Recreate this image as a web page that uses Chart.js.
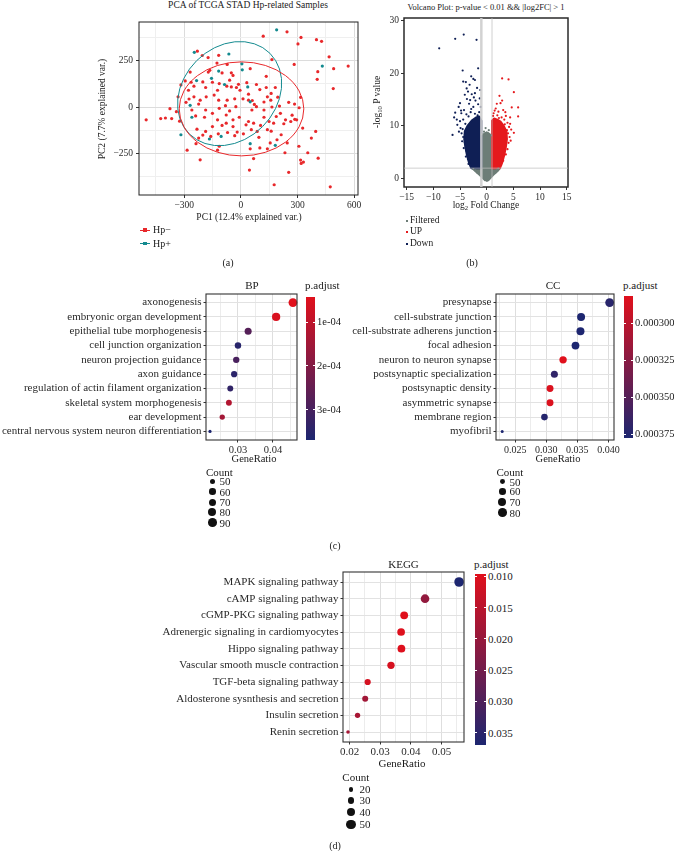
<!DOCTYPE html>
<html>
<head>
<meta charset="utf-8">
<script src="https://cdn.jsdelivr.net/npm/chart.js@4.4.0/dist/chart.umd.min.js"></script>
<style>
  html, body { margin: 0; padding: 0; background: #fff; }
  #page { position: relative; width: 674px; height: 851px; overflow: hidden;
          font-family: 'Liberation Serif', 'DejaVu Serif', serif; color: #1a1a1a; }
  .t { position: absolute; white-space: nowrap; line-height: 1; }
  .t sub { font-size: 70%; vertical-align: -0.3em; line-height: 0; }
  canvas { position: absolute; }
</style>
</head>
<body>
<div id="page"></div>
<script>
/* ---- (a) PCA: [PC1, PC2] ---- */
const hpNeg = [
  [244,404],[118,381],[318,374],[400,362],[427,353],[302,339],[467,270],[164,255],[282,229],[491,206],
  [407,190],[404,149],[489,99],[568,220],[-231,300],[-205,277],[-174,266],[-118,278],[-165,197],[-100,183],
  [-51,184],[49,206],[-73,229],[-127,236],[-42,170],[-295,140],[-264,133],[-318,119],[-249,112],[-202,135],
  [-187,105],[-151,133],[-115,126],[-75,112],[-51,108],[-24,105],[-13,122],[31,131],[82,121],[100,94],
  [134,105],[134,165],[182,105],[160,73],[195,53],[158,37],[122,27],[60,35],[71,14],[40,37],
  [11,44],[-33,44],[-73,37],[-118,37],[-142,64],[-184,55],[-216,37],[-249,55],[-275,43],[-291,25],
  [-333,55],[-376,-9],[-400,-59],[-425,-62],[-367,-62],[-502,-69],[-325,-76],[-260,-16],[-224,16],[-187,-16],
  [-115,-7],[-82,7],[-60,-21],[-27,2],[58,-16],[82,2],[122,-16],[164,0],[204,5],[209,-34],
  [187,-51],[236,-69],[227,-90],[285,-66],[271,-44],[316,52],[284,16],[308,-4],[-240,-48],[-193,-55],
  [-151,-34],[-124,-69],[-100,-99],[-78,-87],[-42,-69],[-9,-55],[27,-96],[40,-78],[67,-87],[122,-55],
  [149,-78],[173,-87],[140,-122],[104,-99],[160,-130],[95,-163],[55,-122],[13,-144],[-20,-135],[-33,-154],
  [-71,-137],[-120,-144],[-151,-105],[-187,-131],[-233,-119],[-202,-151],[-224,-167],[-238,-197],[-160,-158],[-115,-211],
  [-124,-232],[-285,-232],[-216,-284],[49,-225],[100,-220],[140,-225],[67,-277],[155,-193],[45,-339],[176,-418],
  [253,-351],[233,-246],[307,-211],[316,-285],[331,-296],[354,-246],[409,-275],[373,-167],[396,-131],[327,-113],
  [295,-69],[473,-429],[245,-193],[191,-176],[-342,-25],[-42,-105],[-78,-43],[-124,90],[-60,144],[-5,90],
  [40,69],[140,55],[253,25],[264,-78],[86,-131],[213,-149],[-278,90],[-173,188],[-269,188],[319,-303]
];
const hpPos = [
  [189,415],[-247,294],[-64,285],[5,232],[7,200],[-118,193],[-156,154],[-235,142],[-87,121],[36,108],
  [49,28],[-269,9],[-260,-55],[-318,-149],[-167,-172],[-105,-158],[49,-197],[182,-206],[431,220]
];
// stat_ellipse outlines: centre, semi-axes (PC1 units), tilt in degrees
const ellipseHpPos = { cx: -60, cy: 72, a: 302, b: 247, angle: 45 };
const ellipseHpNeg = { cx: 3, cy: -10, a: 330, b: 249, angle: 0 };

/* ---- (b) volcano: [log2FC, -log10 p] ---- */
const fcCut = 1;
const pCut = 2;
const downPoints = [
  [-8.9,24.7],[-5.9,26.5],[-4.3,27.3],[-1.9,26.3],[-4.5,20.5],[-1.6,20.9],[-4.4,18.4],[-3.9,18.3],[-2.5,18.9],[-2.2,18.7],
  [-3.75,17.1],[-3.5,16.5],[-4.1,15.9],[-2.8,16.0],[-2.2,16.2],[-5,14.3],[-5.25,13.6],[-5.9,12.5],[-6.1,11.6],[-6.4,8.3],
  [-4.75,12.4],[-4.25,13],[-3.1,14.9],[-2.5,13.6],[-5.5,10.2],[-4.7,8.6],[-3.3,14.2],[-2.9,13.2],[-3.8,12.2],[-4.4,11.2],
  [-5.0,10.9],[-4.9,9.6],[-5.2,8.9],[-4.6,7.1],[-4.3,5.8],[-3.9,4.2],[-3.4,2.8],[-1.6,14.1],[-2.1,14.8],[-1.3,15.2],
  [-1.8,17.2],[-3.2,17.8],[-2.9,19.4],[-1.4,12.6],[-3.4,11.8],[-4.0,10.4],[-4.8,12.9],[-5.6,11.2],[-3.7,15.1],[-2.4,15.4],
  [-1.2,16.8],[-3.0,12.6],[-4.5,9.4],[-4.4,7.9],[-4.1,6.9],[-3.8,5.3],[-3.5,3.7],[-2.2,12.3],[-1.7,12.0],[-1.1,13.6]
];
const upPoints = [
  [2.9,19.0],[4.1,18.8],[5.1,16.4],[2.4,15.7],[2.6,14.3],[5.9,13.5],[4.7,13.5],[5.9,11.8],[4.4,11.6],[3.6,11.9],
  [3.1,13.0],[5.1,8.7],[2.2,12.7],[1.7,13.3],[1.3,12.4],[2.0,12.0],[2.8,11.6],[3.3,11.2],[3.9,10.6],[4.2,9.8],
  [4.0,8.6],[4.3,7.9],[4.1,6.8],[3.9,5.6],[3.6,4.6],[3.1,3.4],[2.7,2.6],[4.6,9.3],[3.5,12.6],[2.9,14.8],
  [1.9,14.2],[4.4,10.4],[1.5,12.9],[3.4,10.3],[4.5,7.2],[3.8,9.2],[1.2,11.9],[2.3,11.5]
];
const filteredPoints = [
  [-0.5,8.9],[0.4,9.2],[-0.2,9.6],[0.8,8.2],[-0.9,8.4],[1.9,1.7],[-2.5,1.8],[-1.8,1.2],[1.6,1.1],[0.05,-0.4],
  [0.3,8.6],[-0.4,8.2],[2.2,1.9],[-2.1,1.6]
];
// outlines of the solid, overplotted parts of each group
const filteredCloud = [[-0.3,-0.3],[0.3,-0.3],[1.2,0.7],[2,1.4],[2.5,2],[1,2],[1,7.5],[0.6,8.4],[0,8.8],[-0.6,8.4],
  [-1,7.5],[-1,2],[-2.7,2],[-2.1,1.4],[-1.3,0.7]];
const downCloud = [[-1,2],[-2.9,2],[-3.3,3],[-3.7,4.5],[-4.0,6],[-4.2,7.5],[-4.1,9],[-3.6,10],[-2.8,11],[-2,11.6],
  [-1.4,11.8],[-1,11]];
const upCloud = [[1,2],[2.5,2],[2.9,3],[3.3,4.5],[3.6,6],[3.8,7.5],[3.7,9],[3.2,10],[2.6,10.8],[2,11.2],[1.4,11.4],[1,11]];

/* ---- (c) GO BP ---- */
const bpTerms = ['axonogenesis', 'embryonic organ development', 'epithelial tube morphogenesis', 'cell junction organization',
  'neuron projection guidance', 'axon guidance', 'regulation of actin filament organization', 'skeletal system morphogenesis',
  'ear development', 'central nervous system neuron differentiation'];
const bpRatio = [0.0457, 0.0409, 0.0329, 0.0300, 0.0295, 0.0289, 0.0278, 0.0274, 0.0255, 0.0220];
const bpCount = [91, 82, 66, 60, 59, 58, 55, 55, 51, 44];
const bpPadj = [0.43e-4, 0.55e-4, 2.75e-4, 3.5e-4, 2.95e-4, 3.45e-4, 3.35e-4, 1.2e-4, 1.45e-4, 3.69e-4];
const bpCountBreaks = [50, 60, 70, 80, 90];
const bpPadjBreaks = [1e-4, 2e-4, 3e-4];
const bpPadjLabels = ['1e-04', '2e-04', '3e-04'];

/* ---- (c) GO CC ---- */
const ccTerms = ['presynapse', 'cell-substrate junction', 'cell-substrate adherens junction', 'focal adhesion',
  'neuron to neuron synapse', 'postsynaptic specialization', 'postsynaptic density', 'asymmetric synapse',
  'membrane region', 'myofibril'];
const ccRatio = [0.0402, 0.0356, 0.0355, 0.0347, 0.0327, 0.0313, 0.0306, 0.0306, 0.0297, 0.0229];
const ccCount = [81, 72, 72, 70, 66, 63, 62, 62, 60, 46];
const ccPadj = [0.000372, 0.0003775, 0.0003775, 0.0003775, 0.0002816, 0.000368, 0.000284, 0.000284, 0.000374, 0.0003775];
const ccCountBreaks = [50, 60, 70, 80];
const ccPadjBreaks = [0.0003, 0.000325, 0.00035, 0.000375];
const ccPadjLabels = ['0.000300', '0.000325', '0.000350', '0.000375'];

/* ---- (d) KEGG ---- */
const keggTerms = ['MAPK signaling pathway', 'cAMP signaling pathway', 'cGMP-PKG signaling pathway',
  'Adrenergic signaling in cardiomyocytes', 'Hippo signaling pathway', 'Vascular smooth muscle contraction',
  'TGF-beta signaling pathway', 'Aldosterone sysnthesis and secretion', 'Insulin secretion', 'Renin secretion'];
const keggRatio = [0.0557, 0.0446, 0.0378, 0.0368, 0.0369, 0.0335, 0.0259, 0.0251, 0.0226, 0.0195];
const keggCount = [55, 44, 37, 36, 36, 33, 26, 25, 22, 19];
const keggPadj = [0.0370, 0.0205, 0.0096, 0.0099, 0.0099, 0.0110, 0.0112, 0.0185, 0.0175, 0.0178];
const keggCountBreaks = [20, 30, 40, 50];
const keggPadjBreaks = [0.010, 0.015, 0.020, 0.025, 0.030, 0.035];
const keggPadjLabels = ['0.010', '0.015', '0.020', '0.025', '0.030', '0.035'];

/* ---- helpers ---- */
const SERIF = "'Liberation Serif', 'DejaVu Serif', serif";
Chart.defaults.font.family = SERIF;
Chart.defaults.color = '#333';

const page = document.getElementById('page');
const LOW = [224, 16, 28], HIGH = [29, 38, 112];

function grad(t) {
  t = Math.max(0, Math.min(1, t));
  const c = LOW.map((v, i) => Math.round(v + (HIGH[i] - v) * t));
  return `rgb(${c[0]},${c[1]},${c[2]})`;
}

function onStep(v, step) {
  return Math.abs(v / step - Math.round(v / step)) < 1e-6;
}

function minus(v) {
  return (v < 0 ? '\u2212' : '') + Math.abs(v);
}

function text(x, y, html, o = {}) {
  const d = document.createElement('div');
  d.className = 't';
  d.innerHTML = html;
  d.style.left = x + 'px';
  d.style.top = y + 'px';
  d.style.fontSize = (o.size || 10) + 'px';
  const tx = o.align === 'l' ? '0' : o.align === 'r' ? '-100%' : '-50%';
  d.style.transform = `translate(${tx},-50%)` + (o.rot ? ` rotate(${o.rot}deg)` : '');
  if (o.color) d.style.color = o.color;
  page.appendChild(d);
  return d;
}

function box(l, t, w, h, css) {
  const d = document.createElement('div');
  d.style.cssText = `position:absolute;left:${l}px;top:${t}px;width:${w}px;height:${h}px;${css}`;
  page.appendChild(d);
  return d;
}

function linAxis(min, max, step, major, fmt, o) {
  return {
    type: 'linear', min, max, reverse: !!o.reverse,
    afterBuildTicks: s => { s.ticks = s.ticks.filter(t => onStep(t.value, step)); },
    ticks: {
      stepSize: step, includeBounds: false, autoSkip: false, maxRotation: 0, padding: o.pad, color: '#2a2a2a',
      font: { size: o.fs, family: SERIF },
      callback: v => onStep(v, major) ? fmt(v) : ''
    },
    grid: {
      drawOnChartArea: o.grid !== false, tickLength: o.tl, lineWidth: 1,
      color: c => (c.tick && onStep(c.tick.value, major)) ? o.major : o.minor,
      tickColor: c => (c.tick && onStep(c.tick.value, major)) ? '#333' : 'rgba(0,0,0,0)'
    },
    border: { display: false }
  };
}

// panel border drawn over the data, like ggplot's panel.border
Chart.register({
  id: 'frame',
  defaults: { color: '#333', width: 1 },
  afterDatasetsDraw(chart, args, opts) {
    const a = chart.chartArea, ctx = chart.ctx;
    ctx.save();
    ctx.strokeStyle = opts.color;
    ctx.lineWidth = opts.width;
    ctx.strokeRect(a.left, a.top, a.right - a.left, a.bottom - a.top);
    ctx.restore();
  }
});

// mount a canvas so that the chart area lands exactly on area
function panel(area, m, config) {
  const c = document.createElement('canvas');
  const w = area.r - area.l + m.l + m.r, h = area.b - area.t + m.t + m.b;
  c.width = w; c.height = h;
  c.style.left = (area.l - m.l) + 'px';
  c.style.top = (area.t - m.t) + 'px';
  c.style.width = w + 'px';
  c.style.height = h + 'px';
  page.appendChild(c);
  const fit = (size, prop) => s => {
    s[prop] = size;
    s.paddingLeft = s.paddingRight = s.paddingTop = s.paddingBottom = 0;
  };
  const opts = config.options;
  opts.responsive = false;
  opts.animation = false;
  opts.devicePixelRatio = 1;
  opts.layout = { padding: { top: m.t, right: m.r, left: 0, bottom: 0 } };
  opts.plugins = Object.assign({ legend: { display: false }, tooltip: { enabled: false } }, opts.plugins || {});
  opts.scales.x.afterFit = fit(m.b, 'height');
  opts.scales.y.afterFit = fit(m.l, 'width');
  return new Chart(c, config);
}

/* ---- (a) PCA ---- */
const RED_PT = '#e8282b', TEAL = '#138a8f';
const pairs = arr => arr.map(([x, y]) => ({ x, y }));

panel({ l: 139, t: 22, r: 358, b: 195 }, { l: 34, t: 4, r: 12, b: 18 }, {
  type: 'scatter',
  data: {
    datasets: [
      { data: pairs(hpPos), pointBackgroundColor: TEAL, pointRadius: 1.6, pointBorderWidth: 0 },
      { data: pairs(hpNeg), pointBackgroundColor: RED_PT, pointRadius: 1.6, pointBorderWidth: 0 }
    ]
  },
  options: {
    scales: {
      x: linAxis(-540, 620, 150, 300, minus, { pad: 2, tl: 3, fs: 9.5, major: '#dcdcdc', minor: '#efefef' }),
      y: linAxis(-473, 457, 125, 250, minus, { pad: 3, tl: 3, fs: 9.5, major: '#dcdcdc', minor: '#efefef' })
    },
    plugins: { frame: { color: '#222', width: 1 } }
  },
  plugins: [{
    id: 'ellipses',
    afterDatasetsDraw(chart) {
      const { ctx, scales: { x, y } } = chart;
      [[ellipseHpPos, TEAL], [ellipseHpNeg, RED_PT]].forEach(([e, col]) => {
        const cx = x.getPixelForValue(e.cx), cy = y.getPixelForValue(e.cy);
        const a = Math.abs(x.getPixelForValue(e.cx + e.a) - cx);
        const b = Math.abs(x.getPixelForValue(e.cx + e.b) - cx);
        ctx.save();
        ctx.beginPath();
        ctx.ellipse(cx, cy, a, b, -e.angle * Math.PI / 180, 0, 2 * Math.PI);
        ctx.strokeStyle = col;
        ctx.lineWidth = 1;
        ctx.stroke();
        ctx.restore();
      });
    }
  }]
});

text(248, 6, 'PCA of TCGA STAD Hp-related Samples', { size: 9.5 });
text(249, 217.5, 'PC1 (12.4% explained var.)', { size: 9.5 });
text(103, 109, 'PC2 (7.7% explained var.)', { size: 9.5, rot: -90 });
[['Hp\u2212', RED_PT, 230], ['Hp+', TEAL, 243.5]].forEach(([lab, col, y]) => {
  box(140, y - 0.5, 10, 1, `background:${col}`);
  box(143.3, y - 1.7, 3.4, 3.4, `background:${col}`);
  text(153, y, lab, { size: 10, align: 'l' });
});
text(228, 263, '(a)', { size: 10 });

/* ---- (b) volcano ---- */
const NAVY_PT = '#0f1f55', UP_PT = '#e5191d', GRAY_PT = '#6d7d77';

panel({ l: 404, t: 18, r: 568, b: 187 }, { l: 26, t: 6, r: 8, b: 18 }, {
  type: 'scatter',
  data: {
    datasets: [
      { data: pairs(downPoints), pointBackgroundColor: NAVY_PT, pointRadius: 1.1, pointBorderWidth: 0 },
      { data: pairs(upPoints), pointBackgroundColor: UP_PT, pointRadius: 1.1, pointBorderWidth: 0 },
      { data: pairs(filteredPoints), pointBackgroundColor: GRAY_PT, pointRadius: 1.1, pointBorderWidth: 0 }
    ]
  },
  options: {
    scales: {
      x: linAxis(-15.5, 15.25, 5, 5, minus, { pad: 2, tl: 3, fs: 9.5, grid: false }),
      y: linAxis(-1.57, 30.44, 10, 10, minus, { pad: 2, tl: 3, fs: 9.5, grid: false })
    },
    plugins: { frame: { color: '#2a2a2a', width: 1.5 } }
  },
  plugins: [{
    id: 'clouds',
    beforeDatasetsDraw(chart) {
      const { ctx, scales: { x, y } } = chart;
      [[filteredCloud, GRAY_PT], [downCloud, NAVY_PT], [upCloud, UP_PT]].forEach(([poly, col]) => {
        ctx.save();
        ctx.beginPath();
        poly.forEach(([px, py], i) => {
          const X = x.getPixelForValue(px), Y = y.getPixelForValue(py);
          if (i) ctx.lineTo(X, Y); else ctx.moveTo(X, Y);
        });
        ctx.closePath();
        ctx.fillStyle = col;
        ctx.fill();
        ctx.strokeStyle = col;
        ctx.lineWidth = 2;
        ctx.lineJoin = 'round';
        ctx.stroke();
        ctx.restore();
      });
    },
    afterDatasetsDraw(chart) {
      const { ctx, chartArea: a, scales: { x, y } } = chart;
      ctx.save();
      ctx.strokeStyle = 'rgba(205,205,205,0.9)';
      ctx.lineWidth = 2.5;
      ctx.beginPath();
      ctx.moveTo(x.getPixelForValue(-fcCut), a.top);
      ctx.lineTo(x.getPixelForValue(-fcCut), a.bottom);
      ctx.stroke();
      ctx.strokeStyle = 'rgba(190,190,190,0.9)';
      ctx.lineWidth = 0.8;
      ctx.beginPath();
      ctx.moveTo(x.getPixelForValue(fcCut), a.top);
      ctx.lineTo(x.getPixelForValue(fcCut), a.bottom);
      ctx.moveTo(a.left, y.getPixelForValue(pCut));
      ctx.lineTo(a.right, y.getPixelForValue(pCut));
      ctx.stroke();
      ctx.restore();
    }
  }]
});

text(486, 7, 'Volcano Plot: p-value &lt; 0.01 &amp;&amp; |log2FC| &gt; 1', { size: 8.5 });
text(486, 205.5, 'log<sub>2</sub> Fold Change', { size: 9.5 });
text(378, 102, '-log<sub>10</sub> P value', { size: 9.5, rot: -90 });
[['Filtered', GRAY_PT, 221], ['UP', UP_PT, 232.3], ['Down', NAVY_PT, 243.7]].forEach(([lab, col, y]) => {
  box(405.7, y - 1, 2, 2, `background:${col}`);
  text(410, y, lab, { size: 9.5, align: 'l' });
});
text(472, 262.5, '(b)', { size: 10 });

/* ---- dot plots ---- */
function dotPlot(area, m, terms, ratio, count, padj, xr, step, major, dec, rr, fs, xfs) {
  const pmin = Math.min(...padj), pmax = Math.max(...padj);
  const cmin = Math.min(...count), cmax = Math.max(...count);
  const rad = c => rr[0] + (rr[1] - rr[0]) * Math.sqrt(Math.max(0, c - cmin) / (cmax - cmin));
  panel(area, m, {
    type: 'scatter',
    data: {
      datasets: [{
        data: ratio.map((r, i) => ({ x: r, y: i })),
        pointRadius: count.map(rad),
        pointBackgroundColor: padj.map(p => grad((p - pmin) / (pmax - pmin))),
        pointBorderWidth: 0,
        clip: false
      }]
    },
    options: {
      scales: {
        x: linAxis(xr[0], xr[1], step, major, v => v.toFixed(dec),
          { pad: 1.5, tl: 2.5, fs: xfs, major: '#dedede', minor: '#ececec' }),
        y: linAxis(-0.6, 9.6, 1, 1, v => terms[Math.round(v)],
          { reverse: true, pad: 2, tl: 2.5, fs: fs, major: '#e2e2e2', minor: '#e2e2e2' })
      },
      plugins: { frame: { color: '#333', width: 1.1 } }
    }
  });
  return { rad, pmin, pmax };
}

function colorbar(b, pmin, pmax, breaks, labels, lx, fs) {
  box(b.l, b.t, b.r - b.l, b.b - b.t, `background:linear-gradient(to bottom, ${grad(0)}, ${grad(1)})`);
  const w = b.r - b.l;
  breaks.forEach((v, i) => {
    const y = b.t + (v - pmin) / (pmax - pmin) * (b.b - b.t);
    box(b.l, y - 0.5, w * 0.2, 1, 'background:#fff');
    box(b.r - w * 0.2, y - 0.5, w * 0.2, 1, 'background:#fff');
    text(lx, y, labels[i], { size: fs, align: 'l' });
  });
}

function countLegend(tx, ty, dx, ys, lx, breaks, rad, fs) {
  text(tx, ty, 'Count', { size: fs, align: 'l' });
  breaks.forEach((c, i) => {
    const r = rad(c);
    box(dx - r, ys[i] - r, 2 * r, 2 * r, 'background:#111;border-radius:50%');
    text(lx, ys[i], String(c), { size: fs, align: 'l' });
  });
}

// BP
const bp = dotPlot({ l: 206, t: 294, r: 297, b: 440 }, { l: 206, t: 6, r: 6, b: 16 },
  bpTerms, bpRatio, bpCount, bpPadj, [0.02086, 0.04686], 0.005, 0.01, 2, [1.6, 4.4], 11, 10.5);
text(252, 285, 'BP', { size: 11 });
text(254, 459, 'GeneRatio', { size: 10.5 });
text(305, 285, 'p.adjust', { size: 11, align: 'l' });
colorbar({ l: 306, t: 297, r: 315, b: 440 }, bp.pmin, bp.pmax, bpPadjBreaks, bpPadjLabels, 317, 10.5);
countLegend(206, 472.3, 212.3, [481.3, 491.7, 502.3, 512.3, 522.7], 219.5, bpCountBreaks, bp.rad, 11);

// CC
const cc = dotPlot({ l: 496, t: 294, r: 614, b: 440 }, { l: 150, t: 6, r: 6, b: 16 },
  ccTerms, ccRatio, ccCount, ccPadj, [0.0219, 0.0409], 0.0025, 0.005, 3, [1.5, 4.4], 11, 10);
text(553, 285, 'CC', { size: 11 });
text(558, 459, 'GeneRatio', { size: 10.5 });
text(623, 285, 'p.adjust', { size: 11, align: 'l' });
colorbar({ l: 624, t: 296, r: 633, b: 438 }, cc.pmin, cc.pmax, ccPadjBreaks, ccPadjLabels, 635, 10.5);
countLegend(496.5, 472.3, 502.3, [481.7, 491.3, 501.7, 512.7], 509.5, ccCountBreaks, cc.rad, 11);

text(335, 546, '(c)', { size: 10 });

// KEGG
const kg = dotPlot({ l: 343, t: 572, r: 464, b: 742 }, { l: 185, t: 6, r: 6, b: 17 },
  keggTerms, keggRatio, keggCount, keggPadj, [0.01786, 0.0573], 0.005, 0.01, 2, [1.8, 4.8], 11, 11);
text(403.5, 564.3, 'KEGG', { size: 11 });
text(402, 762.7, 'GeneRatio', { size: 11 });
text(474, 564.3, 'p.adjust', { size: 11, align: 'l' });
colorbar({ l: 475, t: 574, r: 486, b: 745 }, kg.pmin, kg.pmax, keggPadjBreaks, keggPadjLabels, 488, 11);
countLegend(342.3, 776.7, 351, [789.3, 800.3, 811.7, 824.3], 359.5, keggCountBreaks, kg.rad, 11);

text(335, 846, '(d)', { size: 10 });
</script>
</body>
</html>
